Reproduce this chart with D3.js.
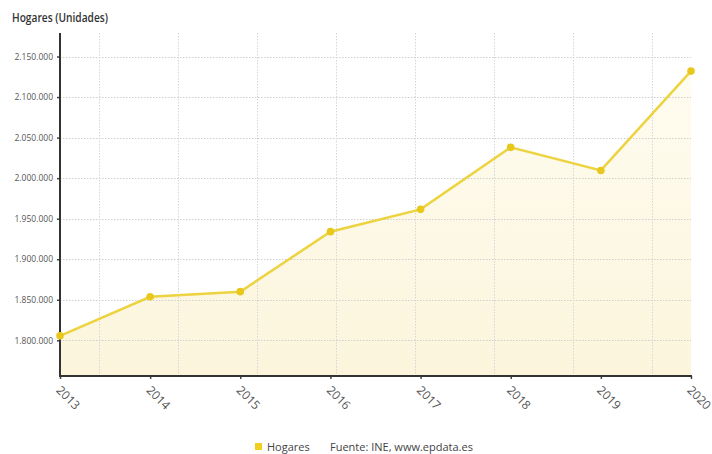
<!DOCTYPE html>
<html>
<head>
<meta charset="utf-8">
<script src="https://cdn.jsdelivr.net/npm/d3@7"></script>
<style>
  html, body { margin: 0; padding: 0; background: #fff; }
  svg { display: block; font-family: "Open Sans", "Noto Sans", sans-serif; }
</style>
</head>
<body>
<svg id="chart" width="712" height="454"></svg>
<script>
const years = ["2013", "2014", "2015", "2016", "2017", "2018", "2019", "2020"];
const hogares = [1805500, 1853700, 1860000, 1934000, 1961500, 2038000, 2009500, 2132000];
const yTicks = [1800000, 1850000, 1900000, 1950000, 2000000, 2050000, 2100000, 2150000];
const title = "Hogares (Unidades)";
const seriesName = "Hogares";
const source = "Fuente: INE, www.epdata.es";

const svg = d3.select("#chart");
const mLeft = 60, mRight = 691, mTop = 33, mBottom = 376;

const x = d3.scalePoint().domain(years).range([mLeft, mRight]);
const xBand = d3.scaleBand().domain(years).range([mLeft, mRight]);
const y = d3.scaleLinear().domain([1756000, 2179000]).range([mBottom, mTop]);

const fmt = v => d3.format(",")(v).replace(/,/g, ".");

// gradient for area
const grad = svg.append("defs").append("linearGradient").attr("id", "areaGrad")
  .attr("gradientUnits", "userSpaceOnUse")
  .attr("x1", 0).attr("x2", 0).attr("y1", mTop).attr("y2", mBottom);
grad.append("stop").attr("offset", "0%").attr("stop-color", "#fffdf3");
grad.append("stop").attr("offset", "100%").attr("stop-color", "#fcf5dc");

// title
svg.append("text").attr("x", 12).attr("y", 22)
  .attr("font-size", 12).attr("font-weight", 600).attr("fill", "#333")
  .attr("textLength", 96).attr("lengthAdjust", "spacingAndGlyphs")
  .text(title);

// area
const data = years.map((yr, i) => ({ yr, v: hogares[i] }));
svg.append("path").datum(data)
  .attr("fill", "url(#areaGrad)")
  .attr("d", d3.area().x(d => x(d.yr)).y0(mBottom).y1(d => y(d.v)));

// grid horizontal
svg.append("g").selectAll("line").data(yTicks).join("line")
  .attr("x1", mLeft).attr("x2", mRight)
  .attr("y1", d => Math.round(y(d)) + 0.5).attr("y2", d => Math.round(y(d)) + 0.5)
  .attr("stroke", "#cfcfcf").attr("stroke-width", 1).attr("stroke-dasharray", "1.5,1.5");

// grid vertical (band centers)
svg.append("g").selectAll("line").data(years).join("line")
  .attr("x1", d => Math.round(xBand(d) + xBand.bandwidth() / 2) + 0.5)
  .attr("x2", d => Math.round(xBand(d) + xBand.bandwidth() / 2) + 0.5)
  .attr("y1", mTop).attr("y2", mBottom)
  .attr("stroke", "#d6d6d6").attr("stroke-width", 1).attr("stroke-dasharray", "1.5,1.5");

// y axis
const yAxis = svg.append("g").attr("transform", `translate(${mLeft},0)`)
  .call(d3.axisLeft(y).tickValues(yTicks).tickFormat(fmt).tickSize(3).tickPadding(4));
yAxis.select(".domain").remove();
yAxis.selectAll(".tick line").attr("stroke", "#444").attr("stroke-width", 1.5);
yAxis.selectAll(".tick text").attr("fill", "#555").attr("font-size", 8.5)
  .attr("font-family", "'Open Sans', sans-serif");
svg.append("line").attr("x1", mLeft).attr("x2", mLeft).attr("y1", mTop).attr("y2", mBottom + 1)
  .attr("stroke", "#333").attr("stroke-width", 2);

// x axis
const xAxis = svg.append("g").attr("transform", `translate(0,${mBottom})`)
  .call(d3.axisBottom(x).tickSize(3).tickSizeOuter(0));
xAxis.select(".domain").remove();
xAxis.selectAll(".tick line").attr("stroke", "#444").attr("stroke-width", 1.5);
xAxis.selectAll(".tick text")
  .attr("x", 0).attr("y", 0).attr("dy", 0)
  .attr("text-anchor", "start")
  .attr("transform", "translate(-5,15) rotate(45)")
  .attr("fill", "#555").attr("font-size", 12)
  .attr("font-family", "'Open Sans', sans-serif");
svg.append("line").attr("x1", mLeft - 1).attr("x2", mRight + 1).attr("y1", mBottom).attr("y2", mBottom)
  .attr("stroke", "#333").attr("stroke-width", 2);

// line
svg.append("path").datum(data)
  .attr("fill", "none").attr("stroke", "#ecd33f").attr("stroke-width", 2.5)
  .attr("d", d3.line().x(d => x(d.yr)).y(d => y(d.v)));

// points
svg.append("g").selectAll("circle").data(data).join("circle")
  .attr("cx", d => x(d.yr)).attr("cy", d => y(d.v)).attr("r", 3.8)
  .attr("fill", "#e8c81c");

// legend
svg.append("rect").attr("x", 255).attr("y", 443).attr("width", 7).attr("height", 7)
  .attr("fill", "#f2cf1e");
svg.append("text").attr("x", 267).attr("y", 451).attr("font-size", 11).attr("fill", "#444")
  .text(seriesName);
svg.append("text").attr("x", 330).attr("y", 451).attr("font-size", 11).attr("fill", "#444")
  .text(source);
</script>
</body>
</html>
